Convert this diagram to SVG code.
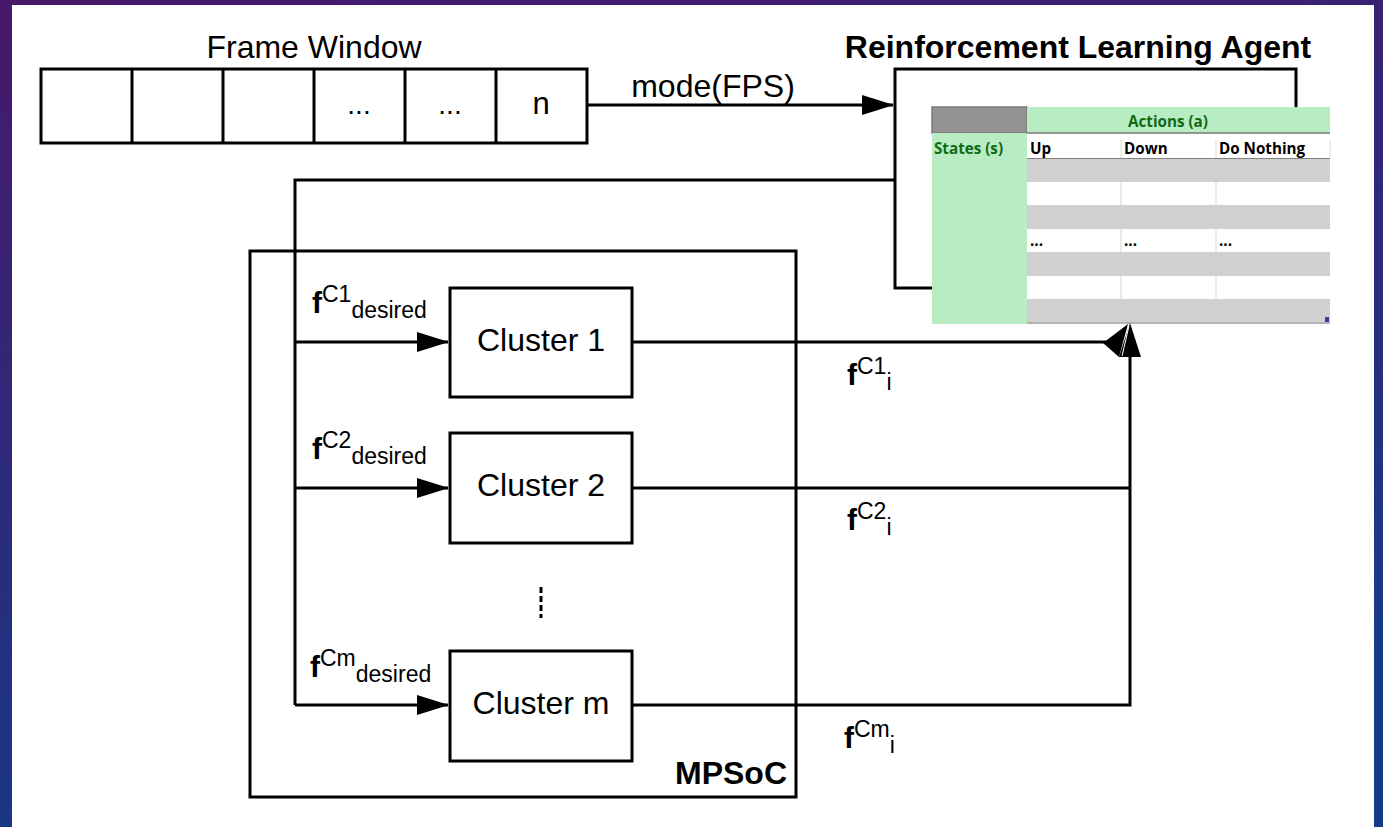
<svg xmlns="http://www.w3.org/2000/svg" width="1383" height="827" viewBox="0 0 1383 827">
<defs>
<linearGradient id="bg" x1="0" y1="0" x2="0.3" y2="1">
<stop offset="0" stop-color="#47186b"/>
<stop offset="1" stop-color="#163a88"/>
</linearGradient>
<marker id="ah" markerWidth="32" markerHeight="20" refX="31" refY="10" orient="auto" markerUnits="userSpaceOnUse">
<path d="M0,0 L32,10 L0,20 Z" fill="#000"/>
</marker>
<style>
.ln{fill:none;stroke:#000;stroke-width:3}
.box{fill:#fff;stroke:#000;stroke-width:3}
.t{font-family:"Liberation Sans",Arial,sans-serif;fill:#000}
.tb{font-family:"Open Sans","Liberation Sans",sans-serif;font-weight:bold;font-size:15.2px}
.grn{fill:#0e6b12}
.gr{fill:#d0d0d0}
.gl{stroke:#e4e4e4;stroke-width:1.5}
</style>
</defs>
<rect width="1383" height="827" fill="url(#bg)"/>
<rect x="12" y="5" width="1362" height="822" fill="#fff"/>

<g id="frame-window">
<text class="t" x="314" y="58" font-size="32" text-anchor="middle">Frame Window</text>
<rect class="box" x="41" y="69" width="546" height="74"/>
<path class="ln" d="M132,69V143M223,69V143M314,69V143M405,69V143M496,69V143"/>
<text class="t" x="359" y="114" font-size="28" text-anchor="middle">...</text>
<text class="t" x="450" y="114" font-size="28" text-anchor="middle">...</text>
<text class="t" x="541" y="114" font-size="31" text-anchor="middle">n</text>
</g>

<g id="rl-agent">
<text class="t" x="1078" y="58" font-size="32" font-weight="bold" text-anchor="middle">Reinforcement Learning Agent</text>
<path class="ln" d="M932,288H895V69H1296V107"/>
</g>

<g id="q-table">
<rect x="932" y="107" width="95" height="26" fill="#939393" stroke="#7a7a7a" stroke-width="1.5"/>
<rect x="1027" y="107" width="303" height="26" fill="#b9ecc2"/>
<line x1="1027" y1="133" x2="1330" y2="133" stroke="#7a7a7a" stroke-width="1.5"/>
<rect x="932" y="133" width="95" height="191" fill="#b9ecc2"/>
<rect x="1027" y="134" width="303" height="24" fill="#fff"/>
<line x1="1027" y1="158.5" x2="1330" y2="158.5" stroke="#808080" stroke-width="1.2"/>
<rect class="gr" x="1027" y="159" width="303" height="23"/>
<rect class="gr" x="1027" y="205" width="303" height="24"/>
<rect class="gr" x="1027" y="252" width="303" height="24"/>
<rect class="gr" x="1027" y="299" width="303" height="23"/>
<path class="gl" d="M1121,182V205M1216,182V205M1121,229V252M1216,229V252M1121,276V299M1216,276V299"/>
<path d="M1121,140V158M1216,140V158M1330,140V158" stroke="#d8d8d8" stroke-width="1"/>
<line x1="1027" y1="323" x2="1330" y2="323" stroke="#9a9a9a" stroke-width="1.5"/>
<rect x="1325" y="317" width="4" height="5" fill="#3a3aa0"/>
<text class="tb grn" x="1168" y="127" text-anchor="middle">Actions (a)</text>
<text class="tb grn" x="934" y="154">States (s)</text>
<text class="tb" x="1030" y="154">Up</text>
<text class="tb" x="1124" y="154">Down</text>
<text class="tb" x="1219" y="154">Do Nothing</text>
<text class="tb" x="1030" y="246" font-size="11" font-weight="normal">...</text>
<text class="tb" x="1124" y="246" font-size="11" font-weight="normal">...</text>
<text class="tb" x="1219" y="246" font-size="11" font-weight="normal">...</text>
</g>

<g id="mpsoc">
<rect class="box" x="250" y="251" width="546" height="546" fill="none"/>
<text class="t" x="787" y="784" font-size="32" font-weight="bold" text-anchor="end">MPSoC</text>
</g>

<g id="cluster-1">
<rect class="box" x="450" y="288" width="182" height="109"/>
<text class="t" x="541" y="351" font-size="32" text-anchor="middle">Cluster 1</text>
</g>
<g id="cluster-2">
<rect class="box" x="450" y="433" width="182" height="110"/>
<text class="t" x="541" y="496" font-size="32" text-anchor="middle">Cluster 2</text>
</g>
<g id="cluster-m">
<rect class="box" x="450" y="651" width="182" height="110"/>
<text class="t" x="541" y="714" font-size="32" text-anchor="middle">Cluster m</text>
</g>
<line x1="541" y1="587" x2="541" y2="618" stroke="#000" stroke-width="3" stroke-dasharray="6,3"/>

<g id="connectors">
<line class="ln" x1="587" y1="105" x2="893" y2="105" marker-end="url(#ah)"/>
<path class="ln" d="M895,180H295V705"/>
<line class="ln" x1="295" y1="342" x2="448" y2="342" marker-end="url(#ah)"/>
<line class="ln" x1="295" y1="488" x2="448" y2="488" marker-end="url(#ah)"/>
<line class="ln" x1="295" y1="705" x2="448" y2="705" marker-end="url(#ah)"/>
<line class="ln" x1="632" y1="342" x2="1108" y2="342"/>
<path class="ln" d="M632,488H1130M632,705H1130V355"/>
<polygon points="1103,343 1128,324 1119,357" fill="#000"/>
<polygon points="1130,323 1141,357 1119,357" fill="#000"/>
<line x1="1129" y1="326" x2="1122" y2="356" stroke="#fff" stroke-width="1"/>
</g>

<g id="labels">
<text class="t" font-size="30" x="312" y="313"><tspan font-weight="bold">f</tspan><tspan font-size="23" dy="-11">C1</tspan><tspan font-size="23" dy="16">desired</tspan></text>
<text class="t" font-size="30" x="312" y="459"><tspan font-weight="bold">f</tspan><tspan font-size="23" dy="-11">C2</tspan><tspan font-size="23" dy="16">desired</tspan></text>
<text class="t" font-size="30" x="310" y="677"><tspan font-weight="bold">f</tspan><tspan font-size="23" dy="-11">Cm</tspan><tspan font-size="23" dy="16">desired</tspan></text>
<text class="t" font-size="30" x="847" y="385"><tspan font-weight="bold">f</tspan><tspan font-size="23" dy="-11">C1</tspan><tspan font-size="23" dy="16">i</tspan></text>
<text class="t" font-size="30" x="847" y="530"><tspan font-weight="bold">f</tspan><tspan font-size="23" dy="-11">C2</tspan><tspan font-size="23" dy="16">i</tspan></text>
<text class="t" font-size="30" x="844" y="748"><tspan font-weight="bold">f</tspan><tspan font-size="23" dy="-11">Cm</tspan><tspan font-size="23" dy="16">i</tspan></text>
<text class="t" x="713" y="97" font-size="32" text-anchor="middle">mode(FPS)</text>
</g>
</svg>
